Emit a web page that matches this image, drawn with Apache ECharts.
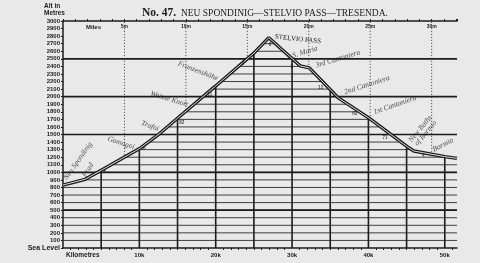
<!DOCTYPE html>
<html>
<head>
<meta charset="utf-8">
<script src="https://cdn.jsdelivr.net/npm/echarts@6/dist/echarts.min.js"></script>
<style>
  html, body { margin: 0; padding: 0; background: #e9e9e9; }
  #chart { width: 480px; height: 263px; }
</style>
</head>
<body>
<div id="chart"></div>
<script>
  // road profile: km from Neu Spondinig, altitude in metres
  const profileKm = [0, 2.9, 5.07, 10.09, 12.7, 15.0, 20.0, 25.0, 26.95, 31.08, 32.26, 36.06, 40.04, 45.08, 45.94, 50.0, 51.6]
  const profileAlt = [832, 908, 1031, 1318, 1516, 1715, 2142, 2575, 2780, 2406, 2380, 1983, 1719, 1339, 1282, 1207, 1185]

  // ruling of the plate
  const altRules = [100, 200, 300, 400, 500, 600, 700, 800, 900, 1000, 1100, 1200, 1300, 1400, 1500, 1600, 1700, 1800, 1900, 2000, 2100, 2200, 2300, 2400, 2500, 2600, 2700, 2800, 2900]
  const heavyLevels = [500, 1000, 1500, 2000, 2500]
  const kmRules = [5, 10, 15, 20, 25, 30, 35, 40, 45, 50]
  const mileMarks = [5, 10, 15, 20, 25, 30]
  const KM_PER_MILE = 1.609344
  const kmMax = 51.6
  const altMax = 3000

  // names along the road
  const placeNames = ['Neu Spondinig', 'Prad', 'Gomagoi', 'Trafoi', 'Weisse Knott', 'Franzenshöhe', 'S. Maria', '3rd Cantoniera', '2nd Cantoniera', '1st Cantoniera', 'New Baths\nof Bormio', 'Bormio']
  const placeKm = [1.96, 3.27, 7.6, 11.39, 13.88, 17.68, 31.69, 36.0, 39.8, 43.48, 47.15, 49.77]
  const placeAlt = [1150, 1031, 1388, 1612, 1969, 2339, 2590, 2498, 2154, 1890, 1546, 1361]
  const placeAngle = [55, 58, -18, -20, -17, -21, 17, 17, 18, 19, 50, 27]

  // gradient figures printed beside the road
  const gradeText = ['6', '8', '82', '11', '9', '8', '8', '12', '63', '71', '4']
  const gradeKm = [5.5, 10.65, 15.55, 19.25, 23.57, 27.1, 29.95, 33.74, 38.2, 42.17, 47.18]
  const gradeAlt = [1004, 1308, 1661, 2022, 2432, 2683, 2396, 2124, 1771, 1458, 1216]

  const ink = '#1c1c1c'

  function seg (a, b, style) {
    return { type: 'line', shape: { x1: a[0], y1: a[1], x2: b[0], y2: b[1] }, style: style }
  }

  function renderRuling (params, api) {
    let under = [api.coord([0, 0])]
    let over = [api.coord([0, altMax])]
    for (let i = 0; i < profileKm.length; i++) {
      const p = api.coord([profileKm[i], profileAlt[i]])
      under.push(p)
      over.push(p)
    }
    under.push(api.coord([kmMax, 0]))
    over.push(api.coord([kmMax, altMax]))

    let ruled = []
    altRules.forEach(h => {
      ruled.push(seg(api.coord([0, h]), api.coord([kmMax, h]), { stroke: '#2b2b2b', lineWidth: 0.9 }))
    })
    kmRules.forEach(k => {
      ruled.push(seg(api.coord([k, 0]), api.coord([k, altMax]), { stroke: ink, lineWidth: 1.6 }))
    })
    const dotted = mileMarks.map(m => seg(api.coord([m * KM_PER_MILE, 0]), api.coord([m * KM_PER_MILE, altMax]),
      { stroke: '#444', lineWidth: 0.9, lineDash: [1.2, 1.8] }))
    const heavy = heavyLevels.map(h => seg(api.coord([0, h]), api.coord([kmMax, h]), { stroke: ink, lineWidth: 1.6 }))

    return {
      type: 'group',
      children: [
        { type: 'group', clipPath: { type: 'polygon', shape: { points: under } }, children: ruled },
        { type: 'group', clipPath: { type: 'polygon', shape: { points: over } }, children: dotted },
        { type: 'group', children: heavy }
      ]
    }
  }

  const profile = profileKm.map((k, i) => [k, profileAlt[i]])
  const peak = profileAlt.indexOf(Math.max(...profileAlt))

  let myChart = echarts.init(document.getElementById('chart'))
  myChart.setOption({
    backgroundColor: '#e9e9e9',
    animation: false,
    title: {
      text: '{a|No. 47.}  NEU SPONDINIG—STELVIO PASS—TRESENDA.',
      left: 137,
      top: 2,
      textStyle: {
        fontFamily: 'Liberation Serif',
        fontSize: 9.5,
        fontWeight: 'normal',
        color: ink,
        rich: {
          a: { fontFamily: 'Liberation Serif', fontSize: 11.5, fontWeight: 'bold', color: ink }
        }
      }
    },
    grid: { left: 63, right: 23, top: 21, bottom: 15 },
    xAxis: [
      {
        type: 'value',
        min: 0,
        max: kmMax,
        interval: 10,
        position: 'bottom',
        axisLine: { show: true, lineStyle: { color: ink, width: 1.5 } },
        axisTick: { show: false },
        minorTick: { show: true, splitNumber: 10, length: 2, lineStyle: { color: ink, width: 1 } },
        splitLine: { show: false },
        axisLabel: {
          margin: 4,
          fontSize: 6,
          fontWeight: 'bold',
          fontFamily: 'Liberation Sans',
          color: ink,
          showMaxLabel: false,
          formatter: v => v === 0 ? '' : v + 'k'
        }
      },
      {
        type: 'value',
        min: 0,
        max: kmMax / KM_PER_MILE,
        interval: 5,
        position: 'top',
        axisLine: { show: true, lineStyle: { color: ink, width: 1.5 } },
        axisTick: { show: true, length: 2, lineStyle: { color: ink } },
        minorTick: { show: true, splitNumber: 5, length: 2, lineStyle: { color: ink } },
        splitLine: { show: false },
        axisLabel: {
          inside: true,
          margin: 3,
          fontSize: 5,
          fontWeight: 'bold',
          fontFamily: 'Liberation Sans',
          color: ink,
          showMaxLabel: false,
          formatter: v => v === 0 ? '' : v + 'm'
        }
      }
    ],
    yAxis: {
      type: 'value',
      min: 0,
      max: altMax,
      interval: 100,
      axisLine: { show: true, lineStyle: { color: ink, width: 1.5 } },
      axisTick: { show: true, length: 2, lineStyle: { color: ink } },
      splitLine: { show: false },
      axisLabel: {
        margin: 3,
        fontSize: 6,
        fontWeight: 'bold',
        fontFamily: 'Liberation Sans',
        color: ink,
        formatter: v => v === 0 ? '{s|Sea Level}' : v,
        rich: { s: { fontSize: 7, fontWeight: 'bold', fontFamily: 'Liberation Sans', color: ink } }
      }
    },
    graphic: [
      {
        type: 'text', left: 44, top: 2,
        style: { text: 'Alt in\nMetres', fontSize: 6.5, fontWeight: 'bold', fontFamily: 'Liberation Sans', fill: ink, lineHeight: 7.5 }
      },
      {
        type: 'text', left: 66, top: 252,
        style: { text: 'Kilometres', fontSize: 6.5, fontWeight: 'bold', fontFamily: 'Liberation Sans', fill: ink }
      },
      {
        type: 'text', left: 86, top: 24,
        style: { text: 'Miles', fontSize: 6, fontWeight: 'bold', fontFamily: 'Liberation Sans', fill: ink }
      }
    ],
    series: [
      {
        type: 'custom',
        z: 2,
        silent: true,
        data: [[0, 0]],
        renderItem: renderRuling
      },
      {
        type: 'line',
        z: 5,
        data: profile,
        symbol: 'none',
        lineStyle: { color: ink, width: 3.4 },
        markPoint: {
          symbolSize: 0,
          data: [{
            coord: profile[peak],
            label: {
              show: true,
              formatter: 'STELVIO PASS',
              position: 'right',
              offset: [1, -1],
              rotate: -6,
              fontFamily: 'Liberation Serif',
              fontSize: 7,
              color: ink,
              textBorderWidth: 0
            }
          }]
        }
      },
      {
        type: 'line',
        z: 6,
        data: profile,
        symbol: 'none',
        lineStyle: { color: '#d9d9d9', width: 1 }
      },
      {
        type: 'scatter',
        z: 7,
        symbolSize: 0,
        data: placeNames.map((n, i) => ({ value: [placeKm[i], placeAlt[i]], label: { formatter: n, rotate: placeAngle[i] } })),
        label: {
          show: true,
          position: 'inside',
          fontFamily: 'Liberation Serif',
          fontStyle: 'italic',
          fontSize: 7.5,
          lineHeight: 7,
          color: ink
        }
      },
      {
        type: 'scatter',
        z: 7,
        symbolSize: 0,
        data: gradeText.map((t, i) => ({ value: [gradeKm[i], gradeAlt[i]], label: { formatter: t } })),
        label: {
          show: true,
          position: 'inside',
          fontFamily: 'Liberation Sans',
          fontWeight: 'bold',
          fontSize: 4.5,
          color: ink
        }
      }
    ]
  })
</script>
</body>
</html>
